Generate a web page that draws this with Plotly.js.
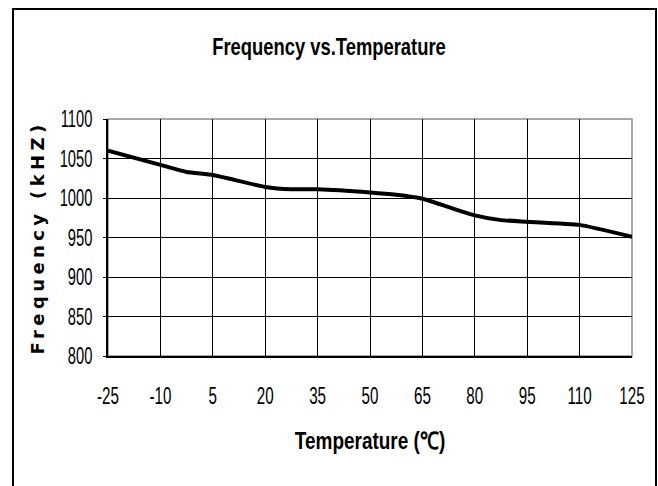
<!DOCTYPE html>
<html>
<head>
<meta charset="utf-8">
<script src="https://cdn.plot.ly/plotly-3.0.1.min.js"></script>
<style>html,body{margin:0;padding:0;background:#fff;}#chart{width:658px;height:486px;}</style>
</head>
<body>
<div id="chart"></div>
<script>
// Data
const temperature = [-25, -10, -2.5, 5, 20, 27.5, 35, 50, 57.5, 65, 80, 87.5, 95, 110, 125];
const frequency   = [1060, 1042, 1033, 1029, 1014, 1011, 1011, 1007, 1004, 999, 978, 972, 970, 966, 951];
const xTickVals = [-25, -10, 5, 20, 35, 50, 65, 80, 95, 110, 125];
const yTickVals = [800, 850, 900, 950, 1000, 1050, 1100];

const sans = '"Liberation Sans", Arial, sans-serif';

const trace = {
  x: temperature,
  y: frequency,
  type: 'scatter',
  mode: 'lines',
  line: {color: '#000', width: 4, shape: 'spline', smoothing: 0.4},
  cliponaxis: false,
  hoverinfo: 'skip'
};

const L = 108, R = 632, T = 119, B = 356, W = 658, H = 486;
const pw = R - L, ph = B - T;
function px(x) { return (x - L) / pw; }
function py(y) { return (B - y) / ph; }

const layout = {
  width: W, height: H,
  margin: {l: L, r: W - R, t: T, b: H - B, pad: 0},
  paper_bgcolor: '#fff',
  plot_bgcolor: '#fff',
  showlegend: false,
  title: {
    text: 'Frequency vs.Temperature',
    font: {family: sans, size: 23, color: '#000', weight: 'bold'},
    xref: 'container', x: 0.5, xanchor: 'center',
    yref: 'container', y: 1 - 47 / H, yanchor: 'middle'
  },
  xaxis: {
    range: [-25, 125],
    tickmode: 'array', tickvals: xTickVals, ticktext: xTickVals.map(String),
    showgrid: true, gridcolor: '#000', gridwidth: 1,
    zeroline: false,
    showline: true, linecolor: '#000', linewidth: 2,
    ticks: '', ticklabelstandoff: 18,
    tickfont: {family: sans, size: 23, color: '#000'}
  },
  yaxis: {
    range: [800, 1100],
    tickmode: 'array', tickvals: yTickVals, ticktext: yTickVals.map(String),
    showgrid: true, gridcolor: '#000', gridwidth: 1,
    zeroline: false,
    showline: true, linecolor: '#000', linewidth: 2,
    ticks: 'outside', ticklen: 3, tickcolor: '#000', tickwidth: 1,
    ticklabelstandoff: 6,
    tickfont: {family: sans, size: 23, color: '#000'}
  },
  annotations: [
    {text: '<span style="letter-spacing:4.4px">Frequency (kHZ)</span>',
     xref: 'paper', yref: 'paper', x: px(37), y: 0.5, xanchor: 'center', yanchor: 'middle',
     textangle: -90, showarrow: false,
     font: {family: '"DejaVu Sans", sans-serif', size: 18, color: '#000', weight: 'bold'}},
    {text: 'Temperature (℃)',
     xref: 'paper', yref: 'paper', x: 0.5, y: py(440), xanchor: 'center', yanchor: 'middle',
     showarrow: false,
     font: {family: sans, size: 24, color: '#000', weight: 'bold'}}
  ],
  shapes: [
    {type: 'rect', xref: 'paper', yref: 'paper', x0: 0, x1: 1, y0: 0, y1: 1,
     line: {color: '#8c8c8c', width: 1.5}, layer: 'below'},
    {type: 'rect', xref: 'paper', yref: 'paper',
     x0: px(13), x1: px(656), y0: py(500), y1: py(9),
     line: {color: '#000', width: 2}, fillcolor: 'rgba(0,0,0,0)'}
  ]
};

// horizontally compress text (reference uses a condensed face)
function squeeze(el, s, mode) {
  const b = el.getBBox();
  const x = mode === 'right' ? b.x + b.width : b.x + b.width / 2;
  const t = el.getAttribute('transform') || '';
  el.setAttribute('transform', t + ' translate(' + x + ',0) scale(' + s + ',1) translate(' + (-x) + ',0)');
}

Plotly.newPlot('chart', [trace], layout, {displayModeBar: false, staticPlot: true}).then(() => {
  document.querySelectorAll('#chart .xtick text').forEach(e => squeeze(e, 0.66, 'center'));
  document.querySelectorAll('#chart .ytick text').forEach(e => squeeze(e, 0.64, 'right'));
  document.querySelectorAll('#chart .gtitle').forEach(e => squeeze(e, 0.8, 'center'));
  const ann = document.querySelectorAll('#chart .annotation-text');
  if (ann[1]) squeeze(ann[1], 0.79, 'center');
});
</script>
</body>
</html>
